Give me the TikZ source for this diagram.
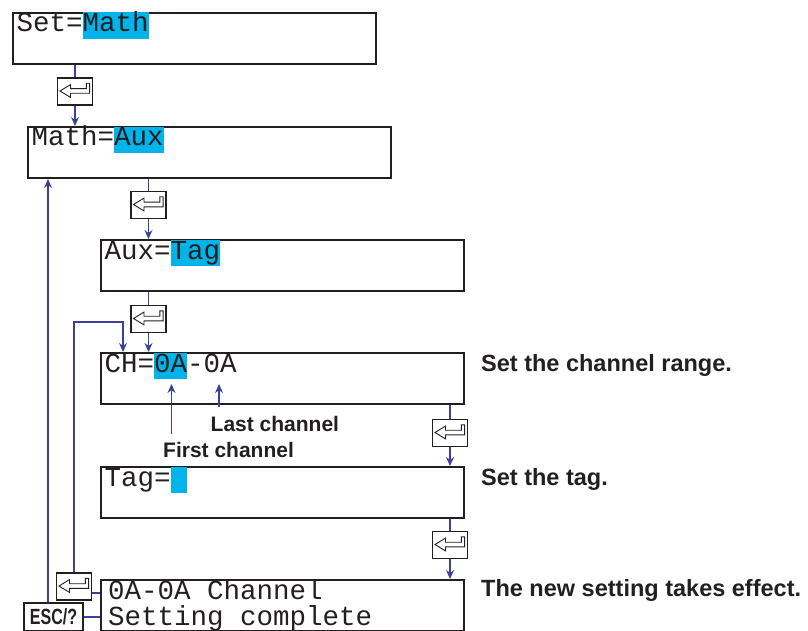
\documentclass[tikz,border=0pt]{standalone}
\usepackage{fontspec}
\setmainfont{Liberation Sans}
\setmonofont{Liberation Mono}
\usetikzlibrary{arrows.meta,calc}
\definecolor{flowblue}{HTML}{3C40A0}
\definecolor{hlcyan}{HTML}{00B4EA}
\definecolor{inkgray}{HTML}{231F20}
\newcommand{\lcdhl}[1]{{\setlength{\fboxsep}{0pt}\colorbox{hlcyan}{\rule[-7pt]{0pt}{26pt}#1}}}
\tikzset{
  screen/.style={draw=inkgray,line width=2pt,minimum width=363pt,minimum height=51pt,inner sep=0pt,anchor=north west},
  lcd/.style={font=\ttfamily\fontsize{27.5}{24}\selectfont,text=inkgray,inner sep=0pt,anchor=base west},
  enterkey/.style={draw=inkgray,line width=1.5pt,fill=white,minimum width=35pt,minimum height=27pt,inner sep=0pt,
    path picture={\draw[inkgray,line width=0.9pt,line join=miter] ($(path picture bounding box.center)+(-15pt,0.5pt)$)
      -- ++(10.5pt,6.4pt) -- ++(0pt,-4.1pt) -- ++(15.8pt,0pt) -- ++(0pt,5.4pt) -- ++(3.3pt,0pt) -- ++(0pt,-10pt)
      -- ++(-19.1pt,0pt) -- ++(0pt,-4.1pt) -- cycle;}},
  esckey/.style={draw=inkgray,line width=1.5pt,fill=white,minimum width=59pt,minimum height=28pt,inner sep=0pt,
    font=\bfseries\fontsize{22}{24}\selectfont,text=inkgray},
  flow/.style={flowblue,line width=1.2pt},
  flowto/.style={flow,-{Stealth[length=9pt,width=8pt]}},
  note/.style={font=\bfseries\fontsize{23.5}{28}\selectfont,text=inkgray,anchor=base west,inner sep=0pt},
  chnote/.style={note,font=\bfseries\fontsize{21}{24}\selectfont}
}
\begin{document}
\begin{tikzpicture}[x=1pt,y=-1pt]
\useasboundingbox (0,0) rectangle (808,631);
% screens
\node[screen] (s1) at (12,12) {};
\node[screen] (s2) at (27,126) {};
\node[screen] (s3) at (100,239) {};
\node[screen] (s4) at (100,352) {};
\node[screen] (s5) at (100,466) {};
\node[screen] (s6) at (100,579) {};
\node[lcd] (t1) at ($(s1.north west)+(4.5,20)$) {Set=\lcdhl{Math}};
\node[lcd] (t2) at ($(s2.north west)+(4.5,20)$) {Math=\lcdhl{Aux}};
\node[lcd] (t3) at ($(s3.north west)+(4.5,20)$) {Aux=\lcdhl{Tag}};
\node[lcd] (t4) at ($(s4.north west)+(4.5,20)$) {CH=\lcdhl{0A}-0A};
\node[lcd] (t5) at ($(s5.north west)+(4.5,20)$) {Tag=\lcdhl{\hphantom{0}}};
\node[lcd] (t6) at ($(s6.north west)+(8,20)$) {\begin{tabular}[t]{@{}l@{}}0A-0A Channel\\[-1pt]Setting complete\end{tabular}};
% keys
\node[enterkey] (k1) at (75,91.5) {};
\node[enterkey] (k2) at (148.5,205) {};
\node[enterkey] (k3) at (148.5,319) {};
\node[enterkey] (k4) at (450,433) {};
\node[enterkey] (k5) at (450,545) {};
\node[enterkey] (k6) at (74,586.5) {};
\node[esckey] (esc) at (53.5,617) {\scalebox{0.73}[1]{ESC/?}};
\foreach \a/\k/\b in {s1/k1/s2,s2/k2/s3,s3/k3/s4,s4/k4/s5,s5/k5/s6}{\draw[flow] (\a.south -| \k) -- (\k.north);\draw[flowto] (\k.south) -- (\k |- \b.north);}
\coordinate (back) at (123,322);
\coordinate (escin) at ($(s2.south west)+(21,0)$);
\draw[flowto] (k6.north) |- (back) -- (back |- s4.north);
\draw[flowto] (esc.north -| escin) -- (escin);
\draw[flow] ($(k6.east)+(0,6.5)$) coordinate (kk) -- (kk -| s6.west);
\draw[flow] (esc.east) -- (esc.east -| s6.west);
% channel labels
\node[chnote] (last) at (210.5,431) {Last channel};
\node[chnote] (first) at (163,457) {First channel};
\coordinate (firstch) at (171.5,384);
\coordinate (lastch) at (219,384);
\draw[flowto] ([yshift=8pt]first.north -| firstch) -- (firstch);
\draw[flowto] ([yshift=9pt]last.north -| lastch) -- (lastch);
% notes
\node[note] (n1) at (481,371) {Set the channel range.};
\node[note] (n2) at (481,485) {Set the tag.};
\node[note] (n3) at (481,596.5) {The new setting takes effect.};
\end{tikzpicture}
\end{document}
